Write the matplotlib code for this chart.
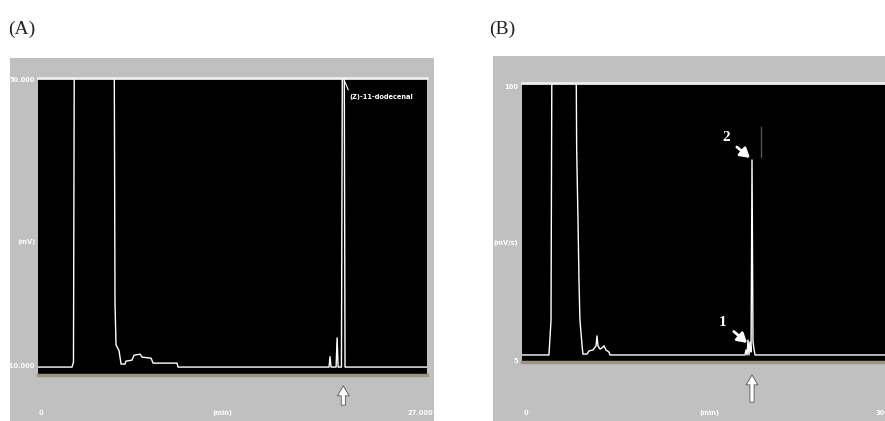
import matplotlib.pyplot as plt
from matplotlib.patches import Rectangle

# chromatogram A: retention time (min) and detector signal
a_time = [0, 2.38, 2.48, 2.55, 5.29, 5.36, 5.43, 5.64, 5.78, 6.05, 6.12, 6.54, 6.68,
          7.10, 7.24, 7.86, 8.00, 9.66, 9.73, 20.20, 20.27, 20.34, 20.69, 20.76, 20.83,
          21.06, 21.14, 21.24, 21.31, 27]
a_signal = [-8.4, -8.4, -7.4, 70, 70, 4.5, -3.9, -5.1, -7.8, -7.8, -7.2, -7.0, -6.0,
            -5.8, -6.4, -6.6, -7.6, -7.6, -8.4, -8.4, -6.3, -8.4, -8.4, -2.5, -8.4,
            -8.4, 70, 70, -8.4, -8.4]
a_ylim = [-10, 50]
a_xlim = [0, 27]
a_ylabels = ["50.000", "(mV)", "-10.000"]
a_xlabels = ["0", "(min)", "27.000"]
a_compound = "(Z)-11-dodecenal"
a_target = 21.19

# chromatogram B
b_time = [0, 2.23, 2.40, 2.48, 4.46, 4.52, 4.63, 4.71, 4.79, 4.96, 5.04, 5.37, 5.54,
          5.87, 6.12, 6.20, 6.28, 6.45, 6.61, 6.78, 6.94, 7.19, 7.27, 18.43, 18.51,
          18.60, 18.68, 18.76, 18.84, 18.93, 19.01, 19.09, 19.17, 19.26, 30]
b_signal = [7.4, 7.4, 19.3, 120, 120, 77.2, 53.4, 32.9, 19.3, 10.8, 7.7, 7.7, 8.8,
            9.1, 10.5, 13.9, 10.5, 9.4, 9.8, 10.5, 9.1, 8.4, 7.4, 7.4, 9.1,
            7.4, 12.5, 7.4, 11.8, 8.4, 73.8, 12.0, 9.5, 7.4, 7.4]
b_ylim = [5, 100]
b_xlim = [0, 30]
b_ylabels = ["100", "(mV/s)", "5"]
b_xlabels = ["0", "(min)", "30"]
b_target = 19.01

fig = plt.figure(figsize=(8.85, 4.21), dpi=100)
fig.patch.set_facecolor("white")

# grey instrument windows behind the plots
fig.patches.append(Rectangle((0.0113, 0), 0.479, 0.862, transform=fig.transFigure,
                             facecolor="#c0c0c0", edgecolor="none", zorder=-1))
fig.patches.append(Rectangle((0.557, 0), 0.443, 0.867, transform=fig.transFigure,
                             facecolor="#c0c0c0", edgecolor="none", zorder=-1))

fig.text(0.009, 0.92, "(A)", fontsize=14, family="Liberation Serif", color="#222222")
fig.text(0.553, 0.92, "(B)", fontsize=14, family="Liberation Serif", color="#222222")

axA = fig.add_axes([0.0426, 0.1093, 0.440, 0.7055])
axB = fig.add_axes([0.5898, 0.1401, 0.4102, 0.6627])
axA.set_zorder(2)
axB.set_zorder(2)

small = dict(color="white", fontsize=4.8, fontweight="bold", family="DejaVu Sans")


def style(ax, xlim, ylim):
    ax.set_facecolor("black")
    ax.set_xlim(xlim)
    ax.set_ylim(ylim)
    ax.set_xticks([])
    ax.set_yticks([])
    ax.spines["top"].set_color("#eeeeee")
    ax.spines["top"].set_linewidth(2)
    ax.spines["bottom"].set_color("#9c9580")
    ax.spines["bottom"].set_linewidth(2.5)
    ax.spines["left"].set_visible(False)
    ax.spines["right"].set_visible(False)


# panel A
style(axA, a_xlim, a_ylim)
axA.plot(a_time, a_signal, color="white", lw=1.0)
tr = axA.get_yaxis_transform()
axA.text(-0.006, 49.5, a_ylabels[0], transform=tr, ha="right", va="center", **small)
axA.text(-0.006, 16.9, a_ylabels[1], transform=tr, ha="right", va="center", **small)
axA.text(-0.006, -8.2, a_ylabels[2], transform=tr, ha="right", va="center", **small)
trx = axA.get_xaxis_transform()
axA.text(0.2, -0.128, a_xlabels[0], transform=trx, ha="center", va="center", **small)
axA.text(12.8, -0.128, a_xlabels[1], transform=trx, ha="center", va="center", **small)
axA.text(27.4, -0.128, a_xlabels[2], transform=trx, ha="right", va="center", clip_on=False, **small)
axA.plot([a_target, a_target + 0.34], [50, 47.6], color="white", lw=0.8)
axA.text(a_target + 0.4, 46.2, a_compound, ha="left", va="center", **small)
axA.annotate("", xy=(a_target, -0.027), xytext=(a_target, -0.111),
             xycoords=("data", "axes fraction"), textcoords=("data", "axes fraction"),
             arrowprops=dict(arrowstyle="simple,head_width=0.7,head_length=0.6,tail_width=0.25",
                             fc="white", ec="#555555", lw=0.6, mutation_scale=12))

# panel B
style(axB, b_xlim, b_ylim)
axB.plot(b_time, b_signal, color="white", lw=1.0)
axB.plot([19.75, 19.75], [85, 74.8], color="#555555", lw=1.0)
tr = axB.get_yaxis_transform()
axB.text(-0.01, 98.6, b_ylabels[0], transform=tr, ha="right", va="center", **small)
axB.text(-0.01, 45.5, b_ylabels[1], transform=tr, ha="right", va="center", **small)
axB.text(-0.01, 5.5, b_ylabels[2], transform=tr, ha="right", va="center", **small)
trx = axB.get_xaxis_transform()
axB.text(0.3, -0.183, b_xlabels[0], transform=trx, ha="center", va="center", **small)
axB.text(15.45, -0.183, b_xlabels[1], transform=trx, ha="center", va="center", **small)
axB.text(29.6, -0.183, b_xlabels[2], transform=trx, ha="center", va="center", **small)

# peak markers 1 and 2
peak_font = dict(color="white", fontsize=11, fontweight="bold", family="Liberation Serif",
                 ha="center", va="center")
arrow = dict(arrowstyle="-|>,head_width=0.3,head_length=0.5", color="white", lw=2.0,
             shrinkA=4, shrinkB=0)
axB.annotate("2", xy=(18.84, 74.5), xytext=(16.86, 81.3), arrowprops=arrow, **peak_font)
axB.annotate("1", xy=(18.60, 11.5), xytext=(16.61, 18.6), arrowprops=arrow, **peak_font)
axB.annotate("", xy=(b_target, -0.036), xytext=(b_target, -0.154),
             xycoords=("data", "axes fraction"), textcoords=("data", "axes fraction"),
             arrowprops=dict(arrowstyle="simple,head_width=0.7,head_length=0.6,tail_width=0.25",
                             fc="white", ec="#555555", lw=0.6, mutation_scale=12))

plt.savefig("out.png", dpi=100)
